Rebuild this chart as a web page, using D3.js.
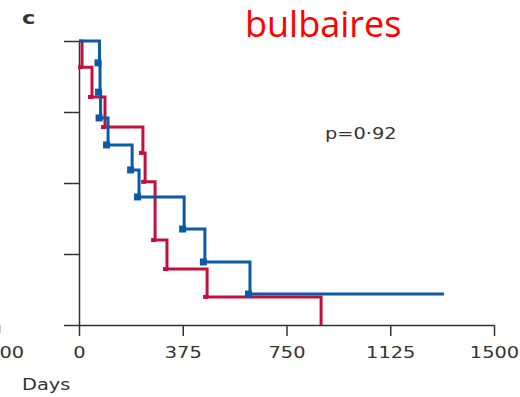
<!DOCTYPE html>
<html>
<head>
<meta charset="utf-8">
<script src="https://cdn.jsdelivr.net/npm/d3@7"></script>
<style>
  html, body { margin: 0; padding: 0; background: #fff; }
  svg { display: block; }
</style>
</head>
<body>
<svg id="chart" width="520" height="397"></svg>
<script>
// Kaplan–Meier curves, bulbar onset group
const xTicks = [0, 375, 750, 1125, 1500];
const yTicks = [0, 0.25, 0.5, 0.75, 1];

// blue group: event times (days) and survival after each step
const blueTimes = [0, 74, 76, 78, 105, 192, 217, 380, 455, 618];
const blueSurv  = [1, 0.923, 0.820, 0.729, 0.634, 0.546, 0.451, 0.338, 0.222, 0.109];
const blueEnd = 1319;

// red group
const redTimes = [0, 11, 47, 94, 231, 239, 275, 318, 463, 875];
const redSurv  = [1, 0.908, 0.803, 0.697, 0.606, 0.504, 0.299, 0.197, 0.099, 0];
const redEnd = 875;

const title = "bulbaires";
const panelLetter = "c";
const pText = "p=0·92";
const xLabel = "Days";

const blueColor = "#0b5aa6";
const redColor = "#c2103d";
const inkColor = "#333333";

const svg = d3.select("#chart");

const x = d3.scaleLinear().domain([0, 1500]).range([79, 494]);
const y = d3.scaleLinear().domain([0, 1]).range([325, 41]);

const stretch = "scale(1.25,1)";

// y axis (ticks only, no labels)
const yAxis = svg.append("g")
  .attr("transform", `translate(${x(0)},0)`)
  .call(d3.axisLeft(y).tickValues(yTicks).tickSize(15).tickSizeOuter(0).tickFormat(""));

// x axis
const xAxis = svg.append("g")
  .attr("transform", `translate(0,${y(0)})`)
  .call(d3.axisBottom(x).tickValues(xTicks).tickSize(11).tickSizeOuter(0).tickFormat(d3.format("d")));

// fragment of the neighbouring panel's axis at the left edge
const xPrev = d3.scaleLinear().domain([0, 1500]).range([x(0) - (x(1500) - x(0)) - 77, -1]);
const prevAxis = svg.append("g")
  .attr("transform", `translate(0,${y(0)})`)
  .call(d3.axisBottom(xPrev).tickValues([1500]).tickSize(8).tickFormat(d3.format("d")));
prevAxis.select(".domain").remove();

[xAxis, yAxis, prevAxis].forEach(g => {
  g.selectAll(".domain, .tick line").attr("stroke", inkColor).attr("stroke-width", 1.5);
  g.selectAll("text")
    .attr("fill", inkColor)
    .attr("font-family", "DejaVu Sans")
    .attr("font-size", 15.5)
    .attr("dy", null)
    .attr("y", 33)
    .attr("transform", stretch);
});

// step curves
const line = d3.line()
  .x(d => x(d[0]))
  .y(d => y(d[1]))
  .curve(d3.curveStepAfter);

function stepPoints(times, surv, end) {
  const pts = times.map((t, i) => [t, surv[i]]);
  pts.push([end, surv[surv.length - 1]]);
  return pts;
}

const redPts = stepPoints(redTimes, redSurv, redEnd);
const bluePts = stepPoints(blueTimes, blueSurv, blueEnd);

svg.append("path")
  .datum(redPts)
  .attr("d", line)
  .attr("fill", "none")
  .attr("stroke", redColor)
  .attr("stroke-width", 3);

svg.append("g").selectAll("rect")
  .data(redTimes.slice(1, -1).map((t, i) => [t, redSurv[i + 1]]))
  .join("rect")
  .attr("x", d => x(d[0]) - 4)
  .attr("y", d => y(d[1]) - 2)
  .attr("width", 5)
  .attr("height", 4)
  .attr("fill", redColor);

svg.append("path")
  .datum(bluePts)
  .attr("d", line)
  .attr("fill", "none")
  .attr("stroke", blueColor)
  .attr("stroke-width", 3);

svg.append("g").selectAll("rect")
  .data(blueTimes.slice(1).map((t, i) => [t, blueSurv[i + 1]]))
  .join("rect")
  .attr("x", d => x(d[0]) - 5)
  .attr("y", d => y(d[1]) - 3.5)
  .attr("width", 7)
  .attr("height", 7)
  .attr("fill", blueColor);

// annotations
svg.append("text")
  .attr("transform", `translate(245,37)`)
  .attr("font-family", "Open Sans")
  .attr("font-size", 36)
  .attr("fill", "#ff0000")
  .text(title);

svg.append("text")
  .attr("transform", `translate(22,24) ${stretch}`)
  .attr("font-family", "DejaVu Sans")
  .attr("font-weight", "bold")
  .attr("font-size", 18)
  .attr("fill", inkColor)
  .text(panelLetter);

svg.append("text")
  .attr("transform", `translate(325,139) ${stretch}`)
  .attr("font-family", "DejaVu Sans")
  .attr("font-size", 15.5)
  .attr("fill", inkColor)
  .text(pText);

svg.append("text")
  .attr("transform", `translate(22,390) ${stretch}`)
  .attr("font-family", "DejaVu Sans")
  .attr("font-size", 15.5)
  .attr("fill", inkColor)
  .text(xLabel);
</script>
</body>
</html>
